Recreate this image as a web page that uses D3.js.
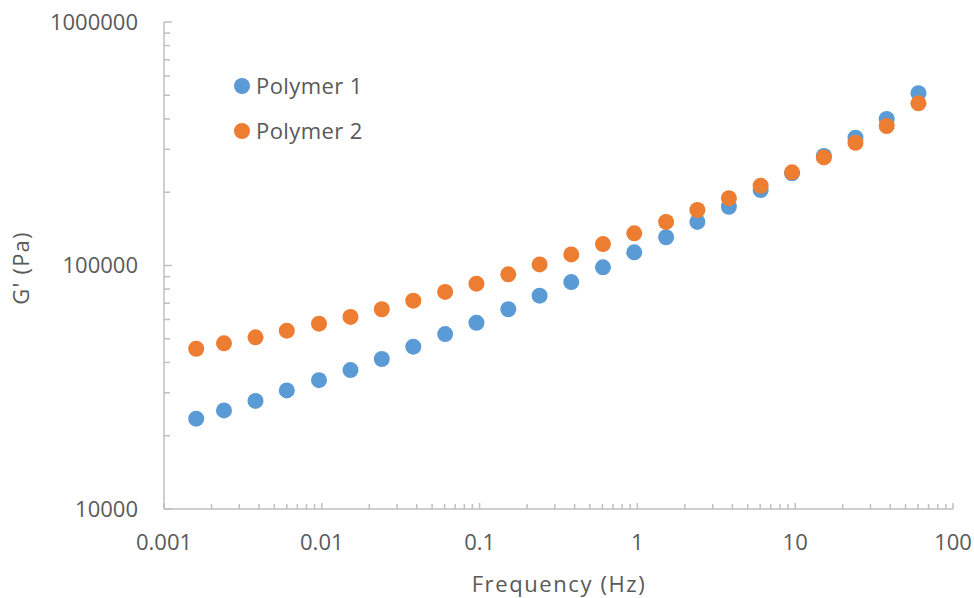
<!DOCTYPE html>
<html>
<head>
<meta charset="utf-8">
<script src="https://cdn.jsdelivr.net/npm/d3@7"></script>
<style>
  body { margin: 0; background: #fff; }
  text { font-family: "Open Sans", sans-serif; fill: #595959; }
</style>
</head>
<body>
<div id="grafico"></div>
<script>
// Dados
const frequencias = [0.0016, 0.0024, 0.0038, 0.006, 0.0096, 0.0152, 0.024, 0.038, 0.0605, 0.0955,
  0.152, 0.24, 0.381, 0.605, 0.955, 1.52, 2.4, 3.8, 6.04, 9.55, 15.2, 24.1, 38, 60.4];
const polimero1 = [23500, 25400, 27800, 30700, 33800, 37200, 41300, 46400, 52300, 58200,
  66100, 75200, 85500, 98300, 113300, 130600, 151000, 174300, 204200, 239000, 281600, 334800, 399700, 509800];
const polimero2 = [45500, 47900, 50700, 54000, 57700, 61500, 66100, 71700, 77900, 84200,
  92000, 101000, 111000, 122500, 135500, 151000, 169000, 189000, 212600, 241300, 278000, 319300, 374000, 463600];
const series = ['Polymer 1', 'Polymer 2'];
const cores = ['#5B9BD5', '#ED7D31'];
const ticksX = [0.001, 0.01, 0.1, 1, 10, 100];
const ticksY = [10000, 100000, 1000000];

const largura = 974;
const altura = 598;
const margem = { top: 22, right: 21, bottom: 89, left: 164 };
const corEixo = '#BFBFBF';

const svg = d3.select('#grafico')
  .append('svg')
  .attr('width', largura)
  .attr('height', altura);

const x = d3.scaleLog().domain([0.001, 100]).range([margem.left, largura - margem.right]);
const y = d3.scaleLog().domain([10000, 1000000]).range([altura - margem.bottom, margem.top]);

// ticks menores (2..9 em cada década)
const menoresX = [];
for (let e = -3; e < 2; e++) for (let k = 2; k <= 9; k++) menoresX.push(k * Math.pow(10, e));
const menoresY = [];
for (let e = 4; e < 6; e++) for (let k = 2; k <= 9; k++) menoresY.push(k * Math.pow(10, e));

const y0 = altura - margem.bottom;

// Eixo X
const gx = svg.append('g');
gx.append('line')
  .attr('x1', margem.left).attr('x2', largura - margem.right)
  .attr('y1', y0).attr('y2', y0)
  .attr('stroke', corEixo).attr('stroke-width', 1.5);
gx.selectAll('.maior').data(ticksX).enter().append('line')
  .attr('x1', (d) => x(d)).attr('x2', (d) => x(d))
  .attr('y1', y0).attr('y2', y0 - 6)
  .attr('stroke', corEixo).attr('stroke-width', 1.5);
gx.selectAll('.menor').data(menoresX).enter().append('line')
  .attr('x1', (d) => x(d)).attr('x2', (d) => x(d))
  .attr('y1', y0).attr('y2', y0 - 5)
  .attr('stroke', corEixo).attr('stroke-width', 1.5);
gx.selectAll('.rotulo').data(ticksX).enter().append('text')
  .attr('x', (d) => x(d))
  .attr('y', 550)
  .attr('text-anchor', 'middle')
  .style('font-size', '22px')
  .text((d) => String(d));

// Eixo Y
const gy = svg.append('g');
gy.append('line')
  .attr('x1', margem.left).attr('x2', margem.left)
  .attr('y1', margem.top).attr('y2', y0)
  .attr('stroke', corEixo).attr('stroke-width', 1.5);
gy.selectAll('.maior').data(ticksY).enter().append('line')
  .attr('x1', margem.left).attr('x2', margem.left + 8)
  .attr('y1', (d) => y(d)).attr('y2', (d) => y(d))
  .attr('stroke', corEixo).attr('stroke-width', 1.5);
gy.selectAll('.menor').data(menoresY).enter().append('line')
  .attr('x1', margem.left).attr('x2', margem.left + 6)
  .attr('y1', (d) => y(d)).attr('y2', (d) => y(d))
  .attr('stroke', corEixo).attr('stroke-width', 1.5);
gy.selectAll('.rotulo').data(ticksY).enter().append('text')
  .attr('x', 138)
  .attr('y', (d) => y(d))
  .attr('dy', '0.35em')
  .attr('text-anchor', 'end')
  .style('font-size', '22px')
  .text((d) => String(d));

// Títulos dos eixos
svg.append('text')
  .attr('x', 559)
  .attr('y', 592)
  .attr('text-anchor', 'middle')
  .style('font-size', '22px')
  .style('letter-spacing', '1.6px')
  .text('Frequency (Hz)');

svg.append('text')
  .attr('transform', `translate(29,268) rotate(-90)`)
  .attr('text-anchor', 'middle')
  .style('font-size', '22px')
  .style('letter-spacing', '1.2px')
  .text("G' (Pa)");

// Pontos
const valores = [polimero1, polimero2];
valores.forEach((serie, i) => {
  svg.append('g').selectAll('circle')
    .data(serie)
    .enter()
    .append('circle')
    .attr('cx', (d, j) => x(frequencias[j]))
    .attr('cy', (d) => y(d))
    .attr('r', 8)
    .attr('fill', cores[i]);
});

// Legenda
const legenda = svg.append('g');
series.forEach((nome, i) => {
  legenda.append('circle')
    .attr('cx', 242).attr('cy', 86 + i * 45)
    .attr('r', 8).attr('fill', cores[i]);
  legenda.append('text')
    .attr('x', 256).attr('y', 86 + i * 45)
    .attr('dy', '0.35em')
    .style('font-size', '22px')
    .style('letter-spacing', '0.4px')
    .text(nome);
});
</script>
</body>
</html>
